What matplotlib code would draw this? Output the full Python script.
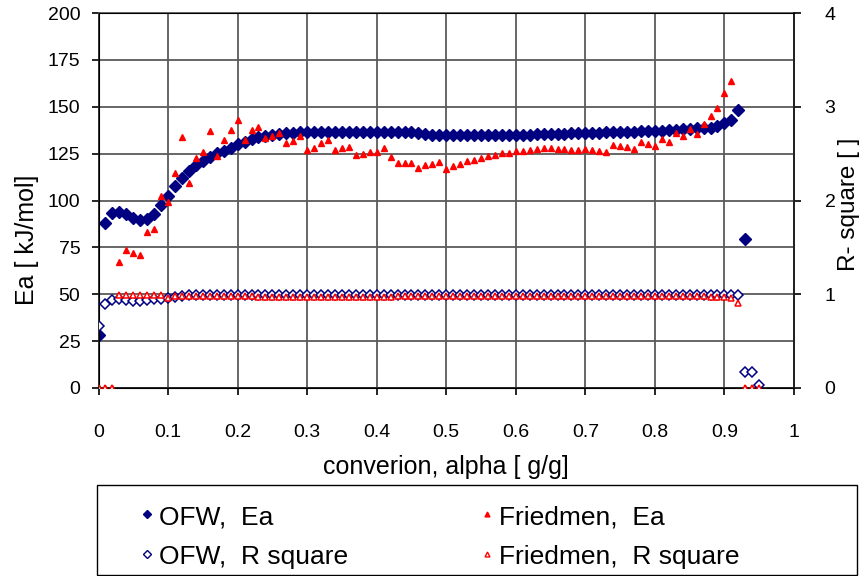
import numpy as np
import matplotlib.pyplot as plt
from matplotlib.lines import Line2D
from matplotlib.patches import Rectangle

plt.rcParams['font.family'] = ['Liberation Sans', 'DejaVu Sans']

nan = np.nan

# conversion steps
alpha = [0.00, 0.01, 0.02, 0.03, 0.04, 0.05, 0.06, 0.07, 0.08, 0.09,
         0.10, 0.11, 0.12, 0.13, 0.14, 0.15, 0.16, 0.17, 0.18, 0.19,
         0.20, 0.21, 0.22, 0.23, 0.24, 0.25, 0.26, 0.27, 0.28, 0.29,
         0.30, 0.31, 0.32, 0.33, 0.34, 0.35, 0.36, 0.37, 0.38, 0.39,
         0.40, 0.41, 0.42, 0.43, 0.44, 0.45, 0.46, 0.47, 0.48, 0.49,
         0.50, 0.51, 0.52, 0.53, 0.54, 0.55, 0.56, 0.57, 0.58, 0.59,
         0.60, 0.61, 0.62, 0.63, 0.64, 0.65, 0.66, 0.67, 0.68, 0.69,
         0.70, 0.71, 0.72, 0.73, 0.74, 0.75, 0.76, 0.77, 0.78, 0.79,
         0.80, 0.81, 0.82, 0.83, 0.84, 0.85, 0.86, 0.87, 0.88, 0.89,
         0.90, 0.91, 0.92, 0.93, 0.94, 0.95]

# activation energy, kJ/mol
ofw_ea = [28.5, 88.0, 93.6, 94.1, 92.7, 90.9, 89.4, 90.3, 93.0, 97.5,
          102.5, 108.0, 112.0, 115.8, 118.8, 121.1, 123.4, 125.2, 126.4, 128.2,
          129.9, 131.4, 132.6, 133.7, 134.4, 134.9, 135.5, 135.9, 136.2, 136.4,
          136.5, 136.5, 136.6, 136.6, 136.6, 136.6, 136.6, 136.6, 136.5, 136.5,
          136.5, 136.5, 136.5, 136.4, 136.4, 136.3, 135.8, 135.5, 135.2, 135.1,
          135.0, 135.0, 135.0, 135.0, 135.0, 135.0, 135.0, 135.0, 135.1, 135.1,
          135.1, 135.2, 135.2, 135.3, 135.4, 135.5, 135.6, 135.7, 135.8, 135.9,
          136.0, 136.1, 136.2, 136.4, 136.5, 136.6, 136.7, 136.8, 137.0, 137.1,
          137.2, 137.3, 137.5, 137.8, 138.1, 138.4, 138.5, 138.6, 138.9, 140.0,
          141.5, 143.1, 148.3, 79.5, nan, nan]

fried_ea = [0.0, 0.0, 0.0, 67.1, 73.4, 72.1, 71.2, 83.2, 84.8, 102.3,
            99.0, 114.5, 133.7, 109.4, 122.9, 126.1, 137.1, 123.9, 132.1, 137.4,
            142.9, 132.3, 137.6, 139.0, 133.2, 134.6, 136.0, 130.7, 131.5, 134.2,
            127.1, 127.8, 130.7, 132.4, 126.9, 128.0, 128.7, 124.1, 124.8, 125.7,
            126.1, 127.8, 123.0, 119.8, 120.2, 120.2, 117.2, 119.1, 119.7, 120.6,
            116.9, 118.3, 119.7, 121.3, 121.8, 122.7, 123.8, 124.5, 125.2, 125.6,
            126.4, 126.4, 127.1, 127.3, 128.0, 128.2, 127.3, 127.3, 127.1, 127.1,
            127.5, 126.8, 126.6, 126.1, 129.8, 129.3, 128.7, 127.3, 131.2, 130.0,
            129.1, 132.6, 131.2, 136.0, 134.4, 138.0, 135.4, 141.0, 145.1, 149.1,
            157.3, 163.7, nan, 0.0, 0.0, 0.0]

# coefficient of determination
ofw_r2 = [0.66, 0.90, 0.935, 0.945, 0.936, 0.929, 0.929, 0.936, 0.945, 0.954,
          0.964, 0.975, 0.985] + [0.99] * 80 + [0.17, 0.17, 0.03]

fried_r2 = ([0.0, 0.0, 0.0] + [0.99] * 7 + [0.965, 0.98] + [0.985] * 11
            + [0.97] * 20 + [0.985] * 45
            + [0.975, 0.97, 0.97, 0.955, 0.91, 0.0, 0.0, 0.0])

navy = '#000080'
red = '#ff0000'
grid_c = '#5a5a5a'

fig = plt.figure(figsize=(8.65, 5.76), dpi=100)
ax = fig.add_axes([98.5 / 865, 1 - 388 / 576, (794 - 98.5) / 865, (388 - 13) / 576])
ax2 = ax.twinx()

ax.plot(alpha, ofw_ea, linestyle='none', marker='D', ms=6.2, color=navy, zorder=4)
ax.plot(alpha, fried_ea, linestyle='none', marker='^', ms=5, color=red, zorder=5)
ax2.plot(alpha, ofw_r2, linestyle='none', marker='D', ms=5.5, mfc='white',
         mec=navy, mew=1.1, zorder=4)
ax2.plot(alpha, fried_r2, linestyle='none', marker='^', ms=5, mfc='white',
         mec=red, mew=1.1, zorder=5)

ax.set_xlim(0, 1)
ax.set_ylim(0, 200)
ax2.set_ylim(0, 4)
ax.set_xticks(np.arange(0, 1.01, 0.1))
ax.set_xticklabels(['0', '0.1', '0.2', '0.3', '0.4', '0.5', '0.6', '0.7', '0.8', '0.9', '1'])
ax.set_yticks(np.arange(0, 201, 25))
ax2.set_yticks([0, 1, 2, 3, 4])

ax.grid(True, color=grid_c, lw=1.3)
ax.set_axisbelow(True)
for sp in ['left', 'bottom', 'right', 'top']:
    ax.spines[sp].set_color('#222222')
    ax.spines[sp].set_linewidth(1.3)
ax2.spines['right'].set_color('#222222')
ax2.spines['right'].set_linewidth(1.3)
ax.spines['top'].set_color(grid_c)

ax.tick_params(axis='x', length=5, width=1.2, pad=21, labelsize=14)
ax.tick_params(axis='y', length=5, width=1.2, pad=8, labelsize=14)
ax2.tick_params(axis='y', length=5, width=1.2, pad=17, labelsize=14)

ax.set_xlabel('converion, alpha [ g/g]', fontsize=18, labelpad=10)
ax.set_ylabel('Ea [ kJ/mol]', fontsize=18, labelpad=6)
ax2.set_ylabel('R- square [ ]', fontsize=17.5, labelpad=2)
ax.yaxis.label.set_y(0.395)
ax2.yaxis.label.set_y(0.49)

# legend box below the plot, entries placed by hand
fig.patches.append(Rectangle((97 / 865, 1 - 575 / 576), (857 - 97) / 865, (575 - 485) / 576,
                             transform=fig.transFigure, fill=False, ec='black', lw=1.0))
entries = [
    (147, 517, dict(marker='D', ms=4, color=navy), 'OFW,  Ea'),
    (147, 557, dict(marker='D', ms=4, mfc='white', mec=navy, mew=1), 'OFW,  R square'),
    (487, 517, dict(marker='^', ms=3.5, color=red), 'Friedmen,  Ea'),
    (487, 557, dict(marker='^', ms=3.5, mfc='white', mec=red, mew=1), 'Friedmen,  R square'),
]
for mx, my, style, text in entries:
    fig.add_artist(Line2D([mx / 865], [1 - (my - 3) / 576], linestyle='none',
                          transform=fig.transFigure, **style))
    fig.text((mx + 12) / 865, 1 - my / 576, text, fontsize=19, va='center', ha='left')

fig.savefig('out.png', dpi=100)
